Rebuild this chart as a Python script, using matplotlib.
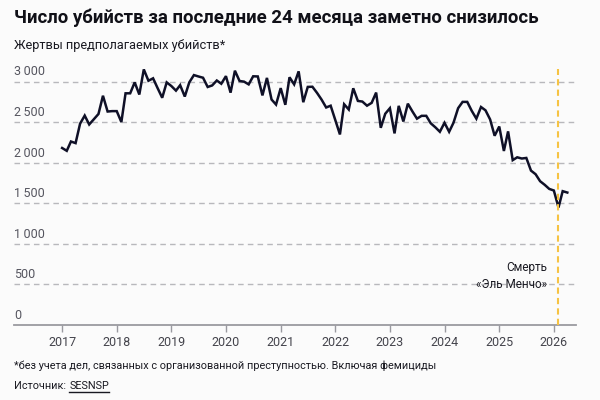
import pandas as pd
import numpy as np
import matplotlib
matplotlib.use('Agg')
import matplotlib.pyplot as plt
import matplotlib.dates as mdates
from matplotlib.lines import Line2D

plt.rcParams['font.family'] = ['Roboto', 'DejaVu Sans']

# monthly victims, Jan 2017 .. Apr 2026
START_MONTH = '2017-01-01'
VICTIMS = [
    2185, 2150, 2265, 2245, 2485, 2585, 2475, 2540, 2605, 2830, 2635, 2640,
    2640, 2505, 2860, 2860, 2995, 2845, 3155, 3015, 3045, 2925, 2805, 2995,
    2950, 2893, 2960, 2820, 2995, 3085, 3068, 3052, 2938, 2957, 3018, 2978,
    3072, 2868, 3139, 3012, 3004, 2970, 3070, 3068, 2834, 3050, 2783, 2721,
    2924, 2718, 3058, 2970, 3131, 2750, 2939, 2941, 2865, 2783, 2685, 2707,
    2530, 2352, 2725, 2660, 2922, 2766, 2758, 2707, 2742, 2869, 2434, 2608,
    2676, 2365, 2705, 2512, 2732, 2635, 2547, 2582, 2582, 2490, 2440, 2385,
    2496, 2385, 2496, 2676, 2754, 2754, 2644, 2547, 2691, 2650, 2537, 2336,
    2450, 2148, 2390, 2035, 2070, 2055, 2062, 1906, 1861, 1775, 1730, 1680,
    1660, 1450, 1652, 1635,
]
Y_TICKS = [0, 500, 1000, 1500, 2000, 2500, 3000]
EVENT_DATE = '2026-02-01'
EVENT_LABEL = 'Смерть\n«Эль Менчо»'

TITLE = 'Число убийств за последние 24 месяца заметно снизилось'
SUBTITLE = 'Жертвы предполагаемых убийств*'
NOTE = '*без учета дел, связанных с организованной преступностью. Включая фемициды'
SOURCE = 'SESNSP'

BG = '#fbfbfb'
TXT = '#1a1a22'
months = pd.date_range(START_MONTH, periods=len(VICTIMS), freq='MS')

fig = plt.figure(figsize=(6, 4), dpi=100, facecolor=BG)
ax = fig.add_axes([0.024, 0.1875, 0.936, 0.64])
ax.set_facecolor(BG)

ax.plot(months, VICTIMS, color='#0f1027', lw=1.8, zorder=3, solid_joinstyle='miter')
ax.axvline(pd.Timestamp(EVENT_DATE), color='#f6c343', lw=1.5, ls=(0, (3, 2)), zorder=4)

ax.set_xlim(pd.Timestamp('2016-02-17'), pd.Timestamp('2026-05-29'))
ax.set_ylim(0, 3160)

# y grid + labels sitting on the grid lines
ax.set_yticks(Y_TICKS)
ax.tick_params(axis='y', length=0, labelleft=False)
for v in Y_TICKS:
    if v > 0:
        ax.axhline(v, color='#b8b8bc', lw=1, ls=(0, (4, 3)), zorder=1)
    ax.annotate(f'{v:,}'.replace(',', '\u2009'), xy=(0, v),
                xycoords=('axes fraction', 'data'), xytext=(0, 2.5),
                textcoords='offset points', ha='left', va='bottom',
                fontsize=9, color='#55555f')

ax.xaxis.set_major_locator(mdates.YearLocator())
ax.xaxis.set_major_formatter(mdates.DateFormatter('%Y'))
ax.tick_params(axis='x', length=5, width=1, color='#9a9aa0', pad=3,
               labelsize=9, labelcolor='#44444c')

for s in ['top', 'right', 'left']:
    ax.spines[s].set_visible(False)
ax.spines['bottom'].set_color('#9a9aa0')
ax.spines['bottom'].set_linewidth(1.3)

ax.annotate(EVENT_LABEL, xy=(pd.Timestamp(EVENT_DATE), 605), xytext=(-8, 0),
            textcoords='offset points', ha='right', va='center',
            multialignment='right', fontsize=8.5, color=TXT, linespacing=1.4)

fig.text(0.024, 1 - 18 / 400, TITLE, fontsize=13.4, weight='bold', color='#111118', va='center')
fig.text(0.024, 1 - 45 / 400, SUBTITLE, fontsize=9.2, color=TXT, va='center')
fig.text(0.024, 1 - 366 / 400, NOTE, fontsize=7.8, color=TXT, va='center')
src = fig.text(0.024, 1 - 386 / 400, 'Источник: ', fontsize=7.8, color=TXT, va='center')

fig.canvas.draw()
r = fig.canvas.get_renderer()
bb = src.get_window_extent(r).transformed(fig.transFigure.inverted())
link = fig.text(bb.x1, 1 - 386 / 400, SOURCE, fontsize=7.8, color=TXT, va='center')
lb = link.get_window_extent(r).transformed(fig.transFigure.inverted())
fig.add_artist(Line2D([lb.x0, lb.x1], [lb.y0 - 0.002, lb.y0 - 0.002],
                      color=TXT, lw=1, transform=fig.transFigure))

fig.savefig('out.png', dpi=100, facecolor=BG)
